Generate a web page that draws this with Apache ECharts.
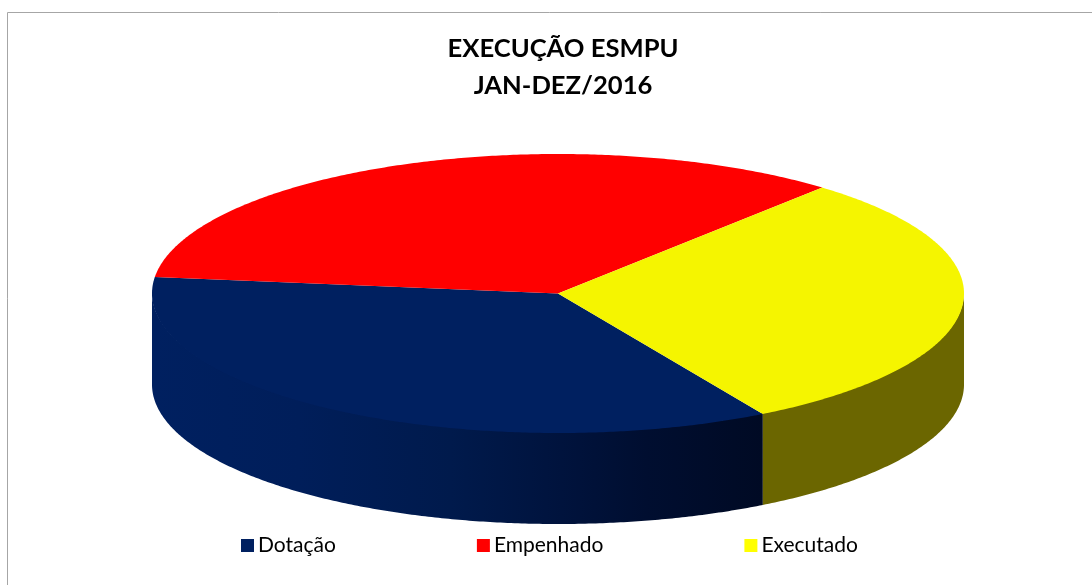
<!DOCTYPE html>
<html>
<head>
<meta charset="utf-8">
<style>html,body{margin:0;padding:0;background:#fff}#chart{width:1092px;height:585px}</style>
<script src="https://cdn.jsdelivr.net/npm/echarts@6/dist/echarts.min.js"></script>
</head>
<body>
<div id="chart"></div>
<script>
var categories = ['Dotação', 'Empenhado', 'Executado'];
var values = [35.3, 34.4, 30.3];
var topColors = ['#002060', '#ff0000', '#f5f500'];
var legendColors = ['#002060', '#ff0000', '#ffff00'];
var chartTitle = 'EXECUÇÃO ESMPU\nJAN-DEZ/2016';

var cx = 558, cy = 293.5, rx = 406, ry = 139.5, depth = 91;
var startAngle = 59.7;
var total = values[0] + values[1] + values[2];

function point(deg, dy) {
    var a = deg * Math.PI / 180;
    return [cx + rx * Math.cos(a), cy + ry * Math.sin(a) + (dy || 0)];
}
function arc(from, to, dy) {
    var pts = [];
    var n = Math.ceil(Math.abs(to - from) * 2);
    for (var i = 0; i <= n; i++) {
        pts.push(point(from + (to - from) * i / n, dy));
    }
    return pts;
}
function sideFill(idx) {
    if (idx === 0) {
        return new echarts.graphic.LinearGradient(0, 0, 1, 0, [
            { offset: 0, color: '#002060' },
            { offset: 0.24, color: '#001e5a' },
            { offset: 0.49, color: '#001a4c' },
            { offset: 0.67, color: '#00133d' },
            { offset: 0.81, color: '#000e30' },
            { offset: 1, color: '#000a24' }
        ]);
    }
    return '#6b6600';
}

function sliceSeries(idx) {
    var before = 0;
    for (var i = 0; i < idx; i++) before += values[i];
    var a0 = startAngle + before / total * 360;
    var a1 = a0 + values[idx] / total * 360;
    return {
        name: categories[idx],
        type: 'custom',
        coordinateSystem: 'none',
        silent: true,
        itemStyle: { color: legendColors[idx] },
        data: [values[idx]],
        renderItem: function () {
            var children = [];
            // front wall, only the part of the slice below the horizontal axis
            // the slice may run past 360, so check that turn too
            [0, -360].forEach(function (shift) {
                var s0 = Math.max(a0 + shift, 0), s1 = Math.min(a1 + shift, 180);
                if (s1 > s0) {
                    children.push({
                        type: 'polygon',
                        shape: { points: arc(s0, s1, -1).concat(arc(s1, s0, depth)) },
                        style: { fill: sideFill(idx) }
                    });
                }
            });
            children.push({
                type: 'polygon',
                shape: { points: [[cx, cy]].concat(arc(a0, a1, 0)) },
                style: { fill: topColors[idx] }
            });
            return { type: 'group', children: children };
        }
    };
}

var mychart = echarts.init(document.getElementById('chart'));
var option = {
    animation: false,
    backgroundColor: '#fff',
    title: {
        text: chartTitle,
        left: 558,
        top: 25,
        textAlign: 'center',
        textStyle: {
            fontFamily: 'Lato',
            fontSize: 25.6,
            fontWeight: 'bold',
            color: '#000',
            lineHeight: 37
        }
    },
    legend: {
        data: categories,
        left: 241,
        top: 535,
        padding: 0,
        icon: 'rect',
        itemWidth: 13,
        itemHeight: 13,
        itemGap: 141,
        textStyle: {
            fontFamily: 'Lato',
            fontSize: 21,
            color: '#000',
            padding: [0, 0, 0, -1]
        }
    },
    graphic: [
        { type: 'line', shape: { x1: 7.5, y1: 12.5, x2: 1092, y2: 12.5 }, style: { stroke: '#a6a6a6', lineWidth: 1 } },
        { type: 'line', shape: { x1: 7.5, y1: 12.5, x2: 7.5, y2: 585 }, style: { stroke: '#a6a6a6', lineWidth: 1 } }
    ],
    series: [sliceSeries(0), sliceSeries(1), sliceSeries(2)]
};
mychart.setOption(option);
</script>
</body>
</html>
